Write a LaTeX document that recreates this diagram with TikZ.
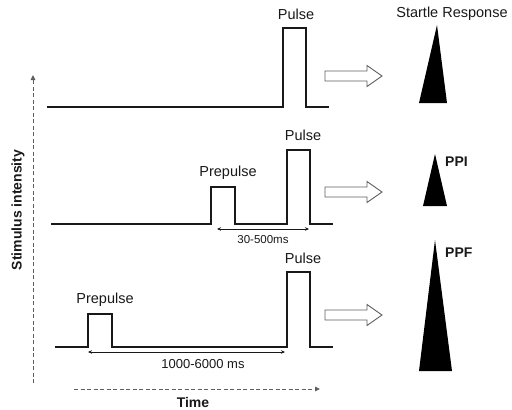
\documentclass[tikz,border=0pt]{standalone}
\usepackage{fontspec}
\setmainfont{Liberation Sans}
\usepackage{xcolor}
\usetikzlibrary{arrows.meta}
\definecolor{traceblack}{RGB}{25,25,25}
\definecolor{axisgray}{RGB}{95,95,95}

\begin{document}
\begin{tikzpicture}[x=1pt, y=-1pt, every node/.style={font=\fontsize{14.5}{16}\selectfont, text=traceblack, inner sep=0pt}]
  \tikzstyle{trace}=[line width=1.7pt, draw=traceblack, line join=miter]
  \tikzstyle{span}=[line width=0.6pt, draw=traceblack, {Stealth[length=4pt,width=3.5pt]}-{Stealth[length=4pt,width=3.5pt]}]
  \tikzstyle{axis}=[dash pattern=on 4pt off 2.5pt, line width=0.9pt, draw=axisgray, -{Triangle[length=5pt,width=4.5pt]}]
  \tikzstyle{outarrow}=[draw=axisgray, fill=white, line width=0.9pt, line join=miter]
  \tikzstyle{response}=[fill=black]
  \tikzstyle{timing}=[font=\fontsize{12}{14}\selectfont]
  \tikzstyle{axislabel}=[font=\fontsize{14}{16}\selectfont\bfseries]
  \useasboundingbox (0,0) rectangle (512,410);

  % stimulus traces
  \draw[trace] (47,107) -- (283,107) -- (283,28) -- (306,28) -- (306,107) -- (329,107);
  \draw[trace] (51,224) -- (211,224) -- (211,187) -- (235,187) -- (235,224)
    -- (287,224) -- (287,150) -- (310,150) -- (310,224) -- (333,224);
  \draw[trace] (55,347) -- (88,347) -- (88,314) -- (112,314) -- (112,347)
    -- (287,347) -- (287,272) -- (310,272) -- (310,347) -- (333,347);

  \node (pulseA) at (296,14) {Pulse};
  \node (preB) at (228,173) {Prepulse};
  \node (pulseB) at (303,135) {Pulse};
  \node (preC) at (105,300) {Prepulse};
  \node (pulseC) at (303,258) {Pulse};

  % intervals
  \coordinate (spanB1) at (217,229);
  \coordinate (spanB2) at (309,229);
  \coordinate (spanC1) at (88,352);
  \coordinate (spanC2) at (285,352);
  \draw[span] (spanB1) -- (spanB2);
  \draw[span] (spanC1) -- (spanC2);
  \node[timing, font=\fontsize{11.5}{14}\selectfont] (gapB) at (263,240) {30-500ms};
  \node[timing, font=\fontsize{13}{15}\selectfont] (gapC) at (203,364) {1000-6000 ms};

  % open arrows
  \foreach \y in {76,192,315}
    \draw[outarrow] (325,\y-5) -- (367,\y-5) -- (367,\y-10.5) -- (382,\y)
      -- (367,\y+10.5) -- (367,\y+5) -- (325,\y+5) -- cycle;

  % responses
  \fill[response] (437,25) -- (447,103) -- (419,103) -- cycle;
  \fill[response] (435,154) -- (447,206) -- (423,206) -- cycle;
  \fill[response] (435,240) -- (452,371) -- (419,371) -- cycle;
  \node (startle) at (452,14) {Startle Response};
  \node[axislabel, anchor=west] (ppi) at (445,162) {PPI};
  \node[axislabel, anchor=west] (ppf) at (445,253) {PPF};

  % axes
  \coordinate (yfoot) at (33,383);
  \coordinate (ytip) at (33,75);
  \coordinate (xfoot) at (74,389);
  \coordinate (xtip) at (320,389);
  \draw[axis] (yfoot) -- (ytip);
  \draw[axis] (xfoot) -- (xtip);
  \node[axislabel, rotate=90] (intensity) at (18,210) {Stimulus intensity};
  \node[axislabel] (time) at (193,402) {Time};
\end{tikzpicture}
\end{document}
